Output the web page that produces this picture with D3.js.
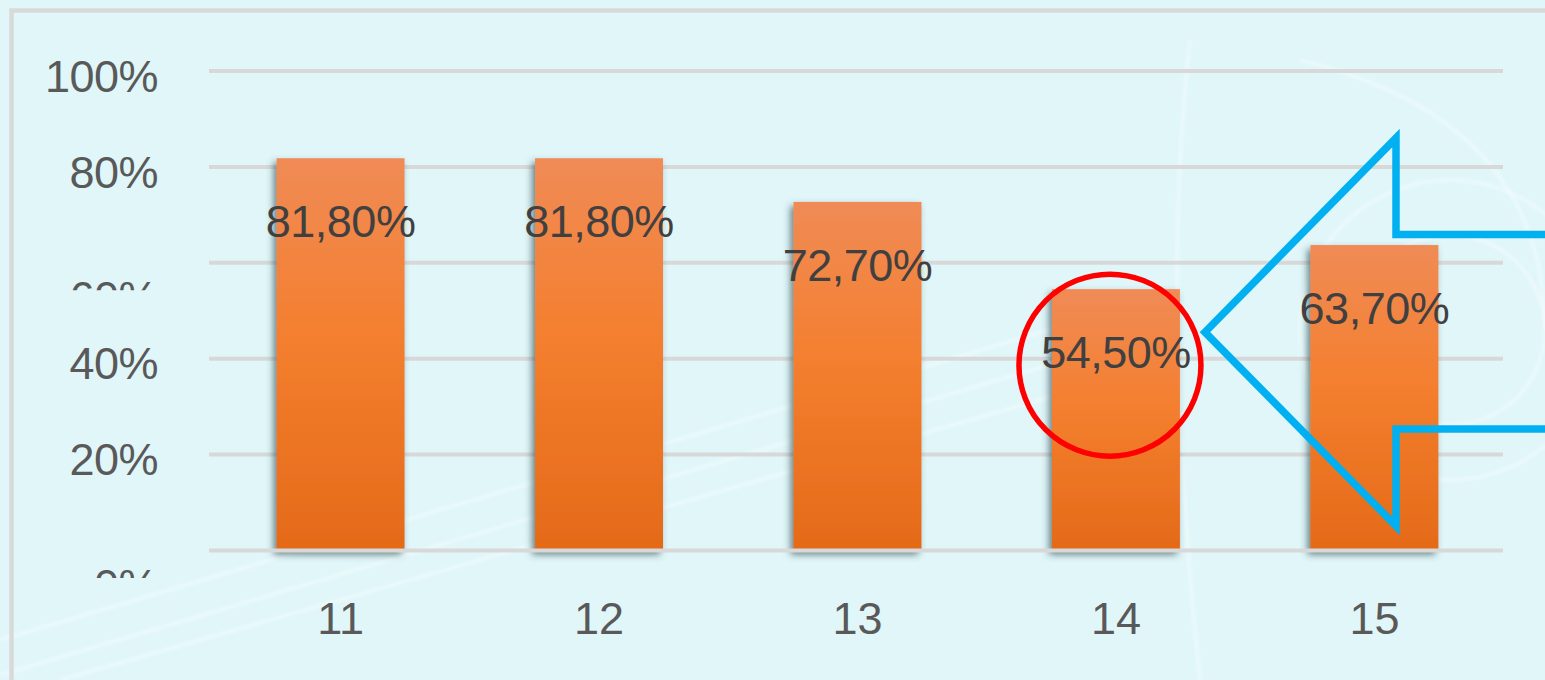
<html>
   <head>
      <meta charset="utf-8">
      <script type="text/javascript" src="https://cdn.jsdelivr.net/npm/d3@7"></script>
      <style>
         body { margin: 0; background: #e0f6f9; overflow: hidden; }
         text { font-family: "Liberation Sans", Arial, sans-serif; }
      </style>
   </head>
   <body>
      <script type="text/javascript">
         var categories = ["11", "12", "13", "14", "15"];
         var values = [0.818, 0.818, 0.727, 0.545, 0.637];
         var value_labels = ["81,80%", "81,80%", "72,70%", "54,50%", "63,70%"];
         var y_ticks = [0, 0.2, 0.4, 0.6, 0.8, 1];
         var y_tick_labels = ["0%", "20%", "40%", "60%", "80%", "100%"];
         var clipped_ticks = [0, 0.6];   // these two labels only show their top edge in the original
         var highlight_index = 3;

         var width = 1545, height = 680;
         var font_size = 45;
         var svg_canvas = d3.select("body").append("svg")
            .attr("width", width).attr("height", height);

         var defs = svg_canvas.append("defs");
         var grad = defs.append("linearGradient").attr("id", "bar_grad")
            .attr("x1", 0).attr("y1", 0).attr("x2", 0).attr("y2", 1);
         grad.append("stop").attr("offset", "0%").attr("stop-color", "#f08b56");
         grad.append("stop").attr("offset", "45%").attr("stop-color", "#f47f2f");
         grad.append("stop").attr("offset", "100%").attr("stop-color", "#e46a18");

         var shadow = defs.append("filter").attr("id", "bar_shadow")
            .attr("x", "-20%").attr("y", "-10%").attr("width", "140%").attr("height", "125%");
         shadow.append("feDropShadow")
            .attr("dx", -3).attr("dy", 4).attr("stdDeviation", 3.5)
            .attr("flood-color", "#324f53").attr("flood-opacity", 0.7);

         var wm_blur = defs.append("filter").attr("id", "wm_blur");
         wm_blur.append("feGaussianBlur").attr("stdDeviation", 1.5);

         // background + faint watermark
         svg_canvas.append("rect").attr("width", width).attr("height", height).attr("fill", "#e0f6f9");
         var wm = svg_canvas.append("g").attr("fill", "none").attr("stroke", "#ffffff")
            .attr("stroke-opacity", 0.35).attr("stroke-width", 4).attr("filter", "url(#wm_blur)");
         wm.append("path").attr("d", "M0,640 L1150,300");
         wm.append("path").attr("d", "M0,675 L1150,335");
         wm.append("path").attr("d", "M60,680 L1180,360");
         wm.append("path").attr("d", "M1190,40 Q1160,300 1200,680");
         wm.append("path").attr("d", "M1300,60 Q1545,120 1545,330");
         wm.append("circle").attr("cx", 1450).attr("cy", 330).attr("r", 150);
         wm.append("circle").attr("cx", 1450).attr("cy", 330).attr("r", 95);

         // chart border
         svg_canvas.append("path")
            .attr("d", "M11.5," + height + " L11.5,10.5 L" + width + ",10.5")
            .attr("fill", "none").attr("stroke", "#d9d9d9").attr("stroke-width", 4.5);

         var x = d3.scaleBand().domain(categories).range([212, 1503])
            .paddingInner(0.505).paddingOuter(0.25);
         var y = d3.scaleLinear().domain([0, 1]).range([550.5, 71]);

         // gridlines (behind the bars)
         svg_canvas.selectAll("line.grid")
            .data(y_ticks.filter(function(d) { return d > 0; }))
            .enter().append("line")
            .attr("class", "grid")
            .attr("x1", 209).attr("x2", 1503)
            .attr("y1", function(d) { return y(d); })
            .attr("y2", function(d) { return y(d); })
            .attr("stroke", "#d8d8d8").attr("stroke-width", 4);

         var data = categories.map(function(c, i) { return { cat: c, value: values[i], label: value_labels[i] }; });

         svg_canvas.selectAll("rect.bar")
            .data(data)
            .enter().append("rect")
            .attr("class", "bar")
            .attr("x", function(d) { return x(d.cat); })
            .attr("width", x.bandwidth())
            .attr("y", function(d) { return y(d.value); })
            .attr("height", function(d) { return y(0) - y(d.value); })
            .attr("fill", "url(#bar_grad)")
            .attr("filter", "url(#bar_shadow)");

         // baseline drawn over the bar feet
         svg_canvas.append("line")
            .attr("x1", 209).attr("x2", 1503)
            .attr("y1", y(0)).attr("y2", y(0))
            .attr("stroke", "#d8d8d8").attr("stroke-width", 4);

         svg_canvas.selectAll("text.val")
            .data(data)
            .enter().append("text")
            .attr("class", "val")
            .attr("x", function(d) { return x(d.cat) + x.bandwidth() / 2; })
            .attr("y", function(d) { return y(d.value) + 79; })
            .attr("text-anchor", "middle")
            .attr("font-size", font_size)
            .attr("letter-spacing", -0.5)
            .attr("fill", "#404040")
            .text(function(d) { return d.label; });

         // y axis
         var y_axis = d3.axisLeft(y).tickValues(y_ticks).tickSize(0).tickPadding(0)
            .tickFormat(function(d, i) { return y_tick_labels[i]; });
         var y_g = svg_canvas.append("g").attr("transform", "translate(158,0)").call(y_axis);
         y_g.select(".domain").remove();
         y_g.selectAll("text")
            .attr("font-size", font_size).attr("fill", "#595959")
            .attr("font-family", "Liberation Sans, Arial, sans-serif")
            .attr("letter-spacing", -0.5)
            .attr("dy", "0.45em");

         y_g.selectAll(".tick").filter(function(d) { return clipped_ticks.indexOf(d) != -1; })
            .each(function(d, i) {
               var cid = "tick_clip_" + i;
               svg_canvas.select("defs").append("clipPath").attr("id", cid)
                  .append("rect").attr("x", -200).attr("y", 14).attr("width", 220).attr("height", 13);
               d3.select(this).attr("clip-path", "url(#" + cid + ")")
                  .select("text").attr("dy", null).attr("y", 49.5);
            });

         // x axis
         var x_axis = d3.axisBottom(x).tickSize(0).tickPadding(0);
         var x_g = svg_canvas.append("g").call(x_axis);
         x_g.select(".domain").remove();
         x_g.selectAll("text")
            .attr("font-size", font_size).attr("fill", "#595959")
            .attr("font-family", "Liberation Sans, Arial, sans-serif")
            .attr("dy", null).attr("y", 634);

         // annotation: red circle around the highlighted bar label
         var hl = data[highlight_index];
         svg_canvas.append("ellipse")
            .attr("cx", x(hl.cat) + x.bandwidth() / 2 - 6)
            .attr("cy", y(hl.value) + 76)
            .attr("rx", 91).attr("ry", 91)
            .attr("fill", "none").attr("stroke", "#ff0000").attr("stroke-width", 5.5);

         // annotation: outlined arrow pointing at the circle
         var tip_x = x(hl.cat) + x.bandwidth() / 2 + 89, tip_y = y(hl.value) + 43;
         var shaft_x = 1396;
         var arrow_pts = [
            [width + 10, 234.5], [shaft_x, 234.5], [shaft_x, 138], [tip_x, tip_y],
            [shaft_x, 526], [shaft_x, 429], [width + 10, 429]
         ];
         svg_canvas.append("path")
            .attr("d", d3.line()(arrow_pts))
            .attr("fill", "none").attr("stroke", "#00b0f0").attr("stroke-width", 7.5)
            .attr("stroke-linejoin", "miter").attr("stroke-miterlimit", 10);
      </script>
   </body>
</html>
